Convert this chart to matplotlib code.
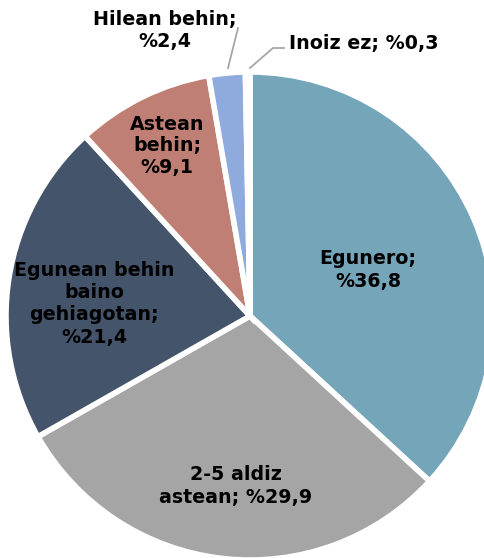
import matplotlib
matplotlib.use("Agg")
import matplotlib.pyplot as plt

# data
labels = ["Egunero", "2-5 aldiz\nastean", "Egunean behin\nbaino\ngehiagotan", "Astean\nbehin", "Hilean behin", "Inoiz ez"]
values = [36.8, 29.9, 21.4, 9.1, 2.4, 0.3]
pct_text = ["%36,8", "%29,9", "%21,4", "%9,1", "%2,4", "%0,3"]
colors = ["#75A5B9", "#A5A5A5", "#44546A", "#C07F74", "#8FAADC", "#FFFFFF"]

fig = plt.figure(figsize=(4.85, 5.58), dpi=100)
ax = fig.add_axes([0, 0, 1, 1])

wedges, _ = ax.pie(values, colors=colors, startangle=90, counterclock=False,
                   radius=1, wedgeprops=dict(edgecolor="white", linewidth=4))

# pie center at (250, 316) px, radius 244 px
cx, cy, r = 250, 316, 244
W, H = 485, 558
ax.set_xlim((0 - cx) / r, (W - cx) / r)
ax.set_ylim((cy - H) / r, (cy - 0) / r)
ax.set_aspect("equal")
ax.axis("off")

def px(x, y):
    return (x - cx) / r, (cy - y) / r

font = dict(fontsize=13.7, fontweight="bold", family="DejaVu Sans", color="black",
            linespacing=1.2)

# inside labels
ax.text(*px(368, 270), "Egunero;\n" + pct_text[0], ha="center", va="center", **font)
ax.text(*px(236, 486), "2-5 aldiz\nastean; " + pct_text[1], ha="center", va="center", **font)
ax.text(*px(94, 304), "Egunean behin\nbaino\ngehiagotan;\n" + pct_text[2], ha="center", va="center", **font)
ax.text(*px(167, 146), "Astean\nbehin;\n" + pct_text[3], ha="center", va="center", **font)

# outside labels with leader lines
ax.text(*px(165, 31), "Hilean behin;\n" + pct_text[4], ha="center", va="center", **font)
ax.plot(*zip(px(238, 28), px(228, 68)), color="#A6A6A6", lw=1.3)
ax.text(*px(289, 43), "Inoiz ez; " + pct_text[5], ha="left", va="center", **font)
ax.plot(*zip(px(250, 68), px(273, 48), px(284, 48)), color="#A6A6A6", lw=1.3)

fig.savefig("out.png", dpi=100)
